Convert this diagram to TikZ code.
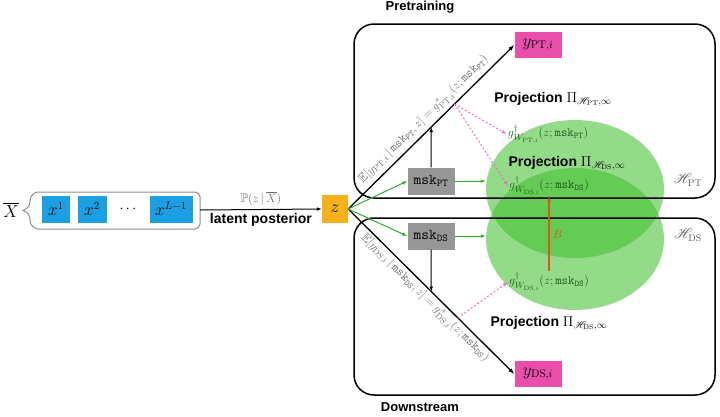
\documentclass[tikz,border=0pt]{standalone}
\usepackage{fontspec}
\setsansfont{Liberation Sans}
\usepackage{amssymb}
\usepackage{mathrsfs}
\usetikzlibrary{arrows.meta,decorations.pathreplacing,shapes.geometric}
\definecolor{tokblue}{RGB}{28,160,228}
\definecolor{zorange}{RGB}{245,178,28}
\definecolor{outpink}{RGB}{232,78,170}
\definecolor{maskgray}{RGB}{150,150,150}
\definecolor{projgreen}{RGB}{60,190,40}
\definecolor{arrowgreen}{RGB}{50,170,50}
\definecolor{dashpink}{RGB}{235,110,190}
\definecolor{gtext}{RGB}{30,90,30}
\definecolor{labelgray}{RGB}{110,110,110}
\definecolor{framegray}{RGB}{140,140,140}
\definecolor{bred}{RGB}{225,85,20}
\begin{document}
\begin{tikzpicture}[x=1pt,y=-1pt,
  tok/.style={fill=tokblue,minimum height=27pt,inner sep=0pt,font=\fontsize{16}{16}\selectfont},
  maskbox/.style={fill=maskgray,minimum width=47pt,minimum height=27pt,inner sep=0pt,font=\fontsize{15}{15}\selectfont},
  outbox/.style={fill=outpink,minimum width=47pt,minimum height=26pt,inner sep=0pt,font=\fontsize{16}{16}\selectfont},
  hspace/.style={ellipse,fill=projgreen,fill opacity=.55,minimum width=178pt,inner sep=0pt},
  panel/.style={line width=1.5pt,rounded corners=20pt},
  diag/.style={line width=1.3pt,-{Latex[length=6pt]}},
  feed/.style={draw=arrowgreen,line width=1pt,-{Latex[length=5pt]}},
  probe/.style={draw=dashpink,line width=1pt,dash pattern=on 2pt off 2pt,-{Latex[length=5pt]}},
  title/.style={font=\sffamily\bfseries\fontsize{13}{15}\selectfont},
  projlabel/.style={font=\sffamily\bfseries\fontsize{14}{16}\selectfont},
  gfun/.style={text=gtext,font=\fontsize{12.5}{14}\selectfont,inner sep=1pt},
  eqlabel/.style={text=labelgray,font=\fontsize{12.5}{14}\selectfont,sloped,inner sep=2pt}
]
\useasboundingbox (0,0) rectangle (720,416);
\node[hspace,minimum height=138pt] (hpt) at (575,189) {};
\node[hspace,minimum height=142pt] (hds) at (575,239) {};
\draw[panel] (354,24) rectangle (715,198);
\draw[panel] (354,218) rectangle (715,395);
\node[title] (pretrain) at (420,7) {Pretraining};
\node[title] (downstr) at (420,407) {Downstream};
\node[font=\fontsize{17}{17}\selectfont] (xbar) at (11,210) {$\overline{X}$};
\node[tok,minimum width=28pt] (x1) at (56,209) {$x^{1}$};
\node[tok,minimum width=29pt] (x2) at (92,209) {$x^{2}$};
\node[font=\fontsize{15}{15}\selectfont] (dots) at (128,209) {$\cdots$};
\node[tok,minimum width=43pt] (xL) at (171,209) {$x^{L-1}$};
\draw[framegray,line width=1pt,rounded corners=5pt] (37,192) -- (200,192) -- (200,229) -- (37,229);
\draw[framegray,line width=1pt,decorate,decoration={brace,amplitude=14pt}] (37,229) -- (37,192);
\coordinate (seqout) at (200,210);
\node[fill=zorange,minimum width=26pt,minimum height=28pt,inner sep=0pt,font=\fontsize{16}{16}\selectfont] (z) at (335,209) {$z$};
\draw[line width=1pt,-{Latex[length=5pt]}] (seqout) -- (z.west)
  node[midway,above,text=labelgray,font=\fontsize{12.5}{12.5}\selectfont] {$\mathbb{P}(z\,|\,\overline{X})$}
  node[midway,below,font=\sffamily\bfseries\fontsize{14}{14}\selectfont] {latent posterior};
\node[outbox] (ypt) at (538,45) {$y_{\mathrm{PT},i}$};
\node[outbox] (yds) at (538,374) {$y_{\mathrm{DS},i}$};
\node[maskbox] (mpt) at (431,181) {$\mathtt{msk}_{\mathtt{PT}}$};
\node[maskbox] (mds) at (431,236) {$\mathtt{msk}_{\mathtt{DS}}$};
\draw[diag] (z.east) -- coordinate[pos=.5] (hitpt) coordinate[pos=.64] (tappt)
  node[pos=.5,above,eqlabel] {$\mathbb{E}[y_{\mathrm{PT},i}\,|\,\mathtt{msk}_{\mathtt{PT}},z]=g^{*}_{\mathrm{PT},i}(z;\mathtt{msk}_{\mathtt{PT}})$} (ypt.west);
\draw[diag] (z.east) -- coordinate[pos=.5] (hitds) coordinate[pos=.66] (tapds)
  node[pos=.5,below,eqlabel] {$\mathbb{E}[y_{\mathrm{DS},i}\,|\,\mathtt{msk}_{\mathtt{DS}},z]=g^{*}_{\mathrm{DS},i}(z;\mathtt{msk}_{\mathtt{DS}})$} (yds.west);
\draw[line width=1pt,-{Latex[length=5pt]}] (mpt.north) -- (hitpt);
\draw[line width=1pt,-{Latex[length=5pt]}] (mds.south) -- (hitds);
\draw[feed] (z.east) -- (mpt.west);
\draw[feed] (z.east) -- (mds.west);
\draw[feed] (mpt.east) -- (mpt.east -| hpt.west);
\draw[feed] (mds.east) -- (mds.east -| hds.west);
\node[projlabel] (ppt) at (553,99) {Projection $\Pi_{\mathscr{H}_{\mathrm{PT}},\infty}$};
\node[projlabel] (pdsu) at (567,163) {Projection $\Pi_{\mathscr{H}_{\mathrm{DS}},\infty}$};
\node[projlabel] (pdsl) at (549,323) {Projection $\Pi_{\mathscr{H}_{\mathrm{DS}},\infty}$};
\node[gfun] (gpt) at (548,134) {$g^{\dagger}_{W_{\mathrm{PT},i}}(z;\mathtt{msk}_{\mathtt{PT}})$};
\node[gfun] (gdsu) at (549,186) {$g^{\dagger}_{W_{\mathrm{DS},i}}(z;\mathtt{msk}_{\mathtt{DS}})$};
\node[gfun] (gdsl) at (549,282) {$g^{\dagger}_{W_{\mathrm{DS},i}}(z;\mathtt{msk}_{\mathtt{DS}})$};
\draw[probe] (tappt) -- (gpt.west);
\draw[probe] (tappt) -- (gdsu.west);
\draw[probe] (tapds) -- (gdsl.west);
\draw[bred,line width=1.2pt,-{Latex[length=5pt]}] (gdsl.north) -- (gdsu.south)
  node[midway,right,font=\fontsize{13}{13}\selectfont] {$B$};
\node[text=labelgray!80!black,font=\fontsize{14}{14}\selectfont] (hptlab) at (688,180) {$\mathscr{H}_{\mathrm{PT}}$};
\node[text=labelgray!80!black,font=\fontsize{14}{14}\selectfont] (hdslab) at (688,235) {$\mathscr{H}_{\mathrm{DS}}$};
\end{tikzpicture}
\end{document}
